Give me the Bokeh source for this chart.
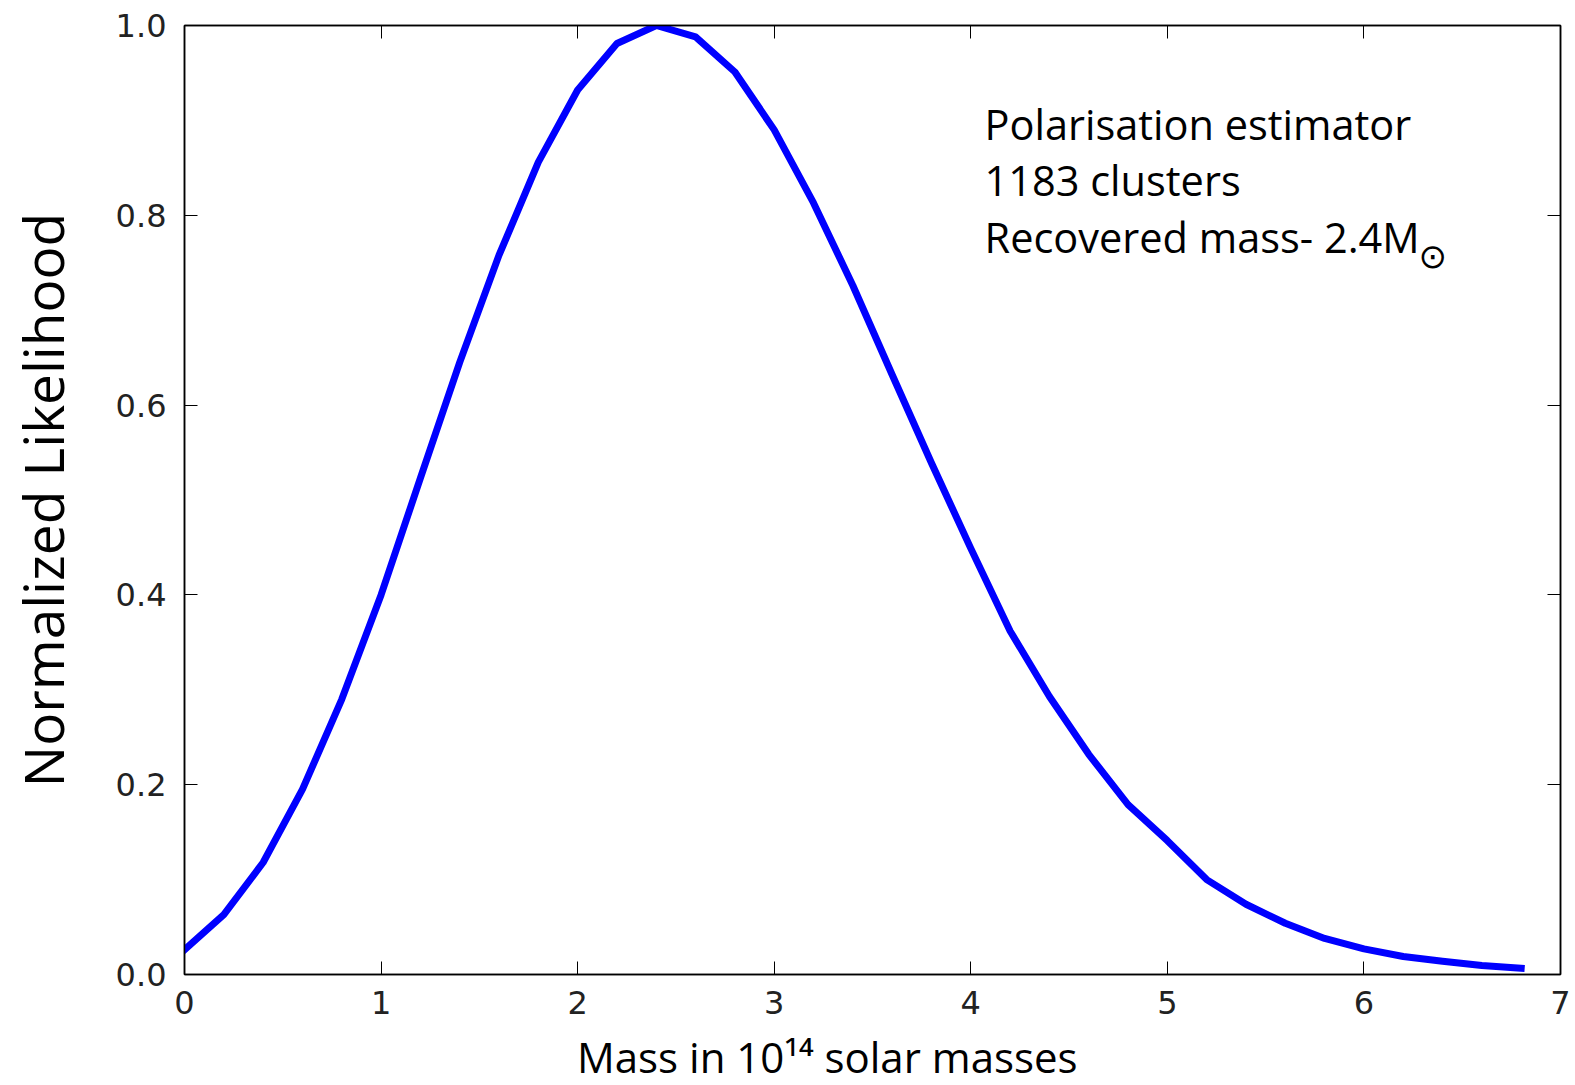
from bokeh.plotting import figure
from bokeh.layouts import column
from bokeh.models import Range1d, LinearAxis, SingleIntervalTicker, PrintfTickFormatter, Label, ColumnDataSource
from bokeh.embed import file_html
from bokeh.resources import INLINE

# Data
mass = [0.0, 0.2, 0.4, 0.6, 0.8, 1.0, 1.2, 1.4, 1.6, 1.8, 2.0, 2.2, 2.4, 2.6, 2.8, 3.0, 3.2, 3.4,
        3.6, 3.8, 4.0, 4.2, 4.4, 4.6, 4.8, 5.0, 5.2, 5.4, 5.6, 5.8, 6.0, 6.2, 6.4, 6.6, 6.8]
likelihood = [0.026, 0.063, 0.118, 0.195, 0.290, 0.400, 0.523, 0.645, 0.758, 0.856, 0.932, 0.981,
              1.000, 0.988, 0.951, 0.890, 0.813, 0.726, 0.632, 0.539, 0.449, 0.362, 0.293, 0.232,
              0.179, 0.141, 0.100, 0.074, 0.054, 0.038, 0.027, 0.019, 0.014, 0.0095, 0.0065]

x_label = "Mass in 10\u00b9\u2074 solar masses"
y_label = "Normalized Likelihood"
note_lines = ["Polarisation estimator", "1183 clusters", "Recovered mass- 2.4M"]
sun_symbol = "\u2299"

W = 1575
H_MAIN, H_LABEL = 1027, 58

p = figure(width=W, height=H_MAIN, output_backend="svg", toolbar_location=None,
           x_range=Range1d(0, 7), y_range=Range1d(0, 1.0),
           min_border_left=184, min_border_right=15, min_border_top=25, min_border_bottom=53)

p.xgrid.visible = False
p.ygrid.visible = False
p.outline_line_color = "black"
p.outline_line_width = 1.5
p.background_fill_color = "white"
p.border_fill_color = "white"

src = ColumnDataSource(dict(x=mass, y=likelihood))
p.line("x", "y", source=src, line_color="#0000ff", line_width=7, line_join="round", line_cap="square")

tick_font = "DejaVu Sans"

xa = p.xaxis[0]
xa.ticker = SingleIntervalTicker(interval=1)
xa.formatter = PrintfTickFormatter(format="%d")
xa.major_tick_in = 13
xa.major_tick_out = 0
xa.minor_tick_line_color = None
xa.axis_line_color = "black"
xa.axis_line_width = 1.5
xa.major_tick_line_color = "black"
xa.major_tick_line_width = 1
xa.major_label_text_font = tick_font
xa.major_label_text_font_size = "32px"
xa.major_label_text_color = "#222222"
xa.major_label_standoff = 12

ya = p.yaxis[0]
ya.ticker = SingleIntervalTicker(interval=0.2)
ya.formatter = PrintfTickFormatter(format="%.1f")
ya.major_tick_in = 13
ya.major_tick_out = 0
ya.minor_tick_line_color = None
ya.axis_line_color = "black"
ya.axis_line_width = 1.5
ya.major_tick_line_color = "black"
ya.major_tick_line_width = 1
ya.major_label_text_font = tick_font
ya.major_label_text_font_size = "32px"
ya.major_label_text_color = "#222222"
ya.major_label_standoff = 14
ya.axis_label = y_label
ya.axis_label_text_font = "Open Sans"
ya.axis_label_text_font_style = "normal"
ya.axis_label_text_font_size = "55px"
ya.axis_label_text_color = "black"
ya.axis_label_standoff = 33

# Mirrored ticks on top and right (no labels)
top = LinearAxis(ticker=SingleIntervalTicker(interval=1), major_tick_in=13, major_tick_out=0,
                 minor_tick_line_color=None, major_label_text_font_size="0px",
                 axis_line_color="black", axis_line_width=1.5, major_label_standoff=0)
right = LinearAxis(ticker=SingleIntervalTicker(interval=0.2), major_tick_in=13, major_tick_out=0,
                   minor_tick_line_color=None, major_label_text_font_size="0px",
                   axis_line_color="black", axis_line_width=1.5, major_label_standoff=0)
p.add_layout(top, "above")
p.add_layout(right, "right")

# Annotation text
note_x = 4.07
note_y = [0.896, 0.837, 0.777]
for txt, yy in zip(note_lines, note_y):
    p.add_layout(Label(x=note_x, y=yy, text=txt, text_font="Open Sans", text_font_size="41.5px",
                       text_color="black", text_baseline="alphabetic", text_align="left"))
p.add_layout(Label(x=6.35, y=0.757, text=sun_symbol, text_font="DejaVu Sans", text_font_size="34px",
                   text_color="black", text_baseline="alphabetic", text_align="center"))

# Strip below the plot holding the x-axis title (sits slightly left of centre, as in the reference)
p2 = figure(width=W, height=H_LABEL, output_backend="svg", toolbar_location=None,
            x_range=p.x_range, y_range=Range1d(0, 1),
            x_axis_type=None, y_axis_type=None,
            min_border_left=184, min_border_right=15, min_border_top=0, min_border_bottom=0)
p2.xgrid.visible = False
p2.ygrid.visible = False
p2.outline_line_color = None
p2.background_fill_color = "white"
p2.border_fill_color = "white"
p2.add_layout(Label(x=3.27, y=0.5, text=x_label, text_font="Open Sans", text_font_size="42px",
                    text_color="black", text_baseline="alphabetic", text_align="center"))

layout = column(p, p2, spacing=0)
open("out.html", "w").write(file_html(layout, INLINE))
